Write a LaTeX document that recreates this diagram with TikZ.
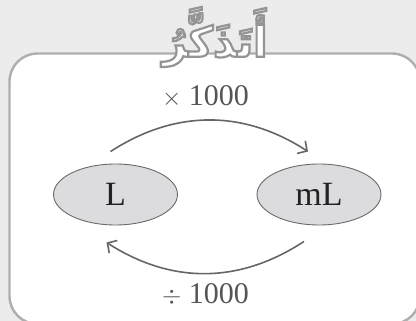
\documentclass[tikz,border=0pt]{standalone}
\usepackage{fontspec}
\usetikzlibrary{shapes.geometric,arrows.meta}
\setmainfont{Liberation Serif}
\newfontfamily\arabicfont[Script=Arabic]{DejaVu Sans}
\TeXXeTstate=1
\definecolor{bgray}{HTML}{ECECEC}
\definecolor{framegray}{HTML}{AEAEB0}
\definecolor{ellfill}{HTML}{DCDCDE}
\definecolor{ellline}{HTML}{6A6A6A}
\definecolor{arrgray}{HTML}{666666}
\definecolor{labgray}{HTML}{555555}
\definecolor{textdark}{HTML}{222222}
\newcommand{\outlinedtext}[1]{\special{pdf:code q 2 Tr 2.2 w 0.58 G 1 g}#1\special{pdf:code Q}}
\tikzset{
  unitbox/.style={ellipse, draw=ellline, fill=ellfill, line width=0.9pt,
    minimum width=124pt, minimum height=61pt, inner sep=0pt,
    text=textdark, font=\fontsize{34}{40}\selectfont},
  oplabel/.style={text=labgray, font=\fontsize{30}{36}\selectfont, inner sep=0pt},
  convarrow/.style={draw=arrgray, line width=1.6pt,
    -{Straight Barb[length=7pt,width=15pt,line width=1.6pt]}},
  frame/.style={draw=framegray, line width=2.4pt, fill=white, rounded corners=28pt},
  titletext/.style={text=white, font=\arabicfont\bfseries\fontsize{42}{48}\selectfont, inner sep=0pt}
}
\begin{document}
\begin{tikzpicture}[x=1pt,y=-1pt]
\useasboundingbox (0,0) rectangle (416,321);
\fill[bgray] (0,0) rectangle (416,321);
\draw[frame] (9.5,53.5) rectangle (420,324);
\node[titletext] (title) at (215,37) {\outlinedtext{\beginR أَتَذَكَّرُ\endR}};
\node[unitbox] (L) at (115.5,194.5) {L};
\node[unitbox] (mL) at (319,194.5) {mL};
\node[oplabel] (times) at (205.5,97) {$\times$ 1000};
\node[oplabel] (div) at (205.5,294.5) {$\div$ 1000};
\draw[convarrow] ([xshift=-5pt,yshift=12pt]L.north) to[bend left=33] ([xshift=-11pt,yshift=12pt]mL.north);
\draw[convarrow] ([xshift=-15pt,yshift=-16pt]mL.south) to[bend left=33] ([xshift=-9pt,yshift=-17pt]L.south);
\end{tikzpicture}
\end{document}
